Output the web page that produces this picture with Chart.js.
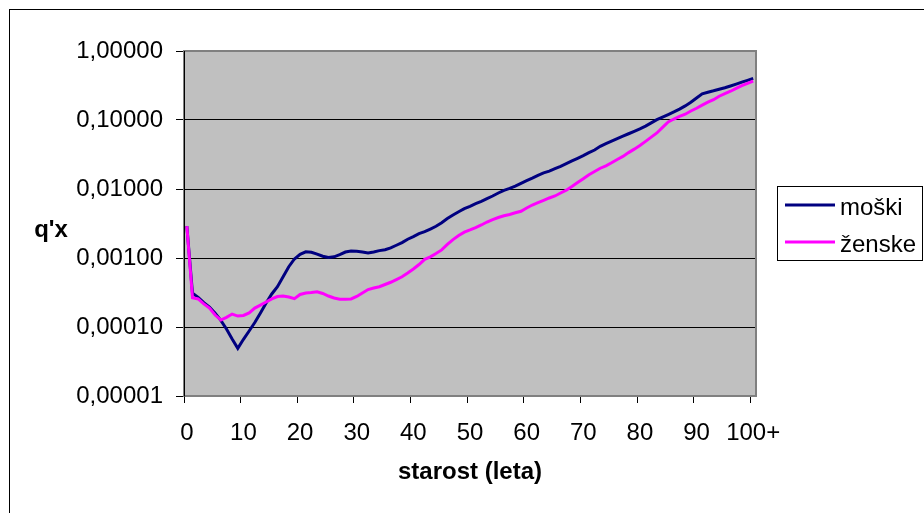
<!DOCTYPE html>
<html>
<head>
<meta charset="utf-8">
<script src="https://cdn.jsdelivr.net/npm/chart.js@4/dist/chart.umd.min.js"></script>
<style>
  html, body { margin: 0; padding: 0; background: #fff; }
  canvas { display: block; }
</style>
</head>
<body>
<canvas id="chart" width="924" height="513"></canvas>
<script>
// Age groups: single years 0..99 and the open group 100+
const ages = Array.from({ length: 100 }, (_, i) => String(i)).concat(['100+']);

// Decade ticks of the logarithmic q'x axis
const yTickValues = [0.00001, 0.0001, 0.001, 0.01, 0.1, 1];

// q'x for men (moški), by age
const moski = [
  0.0029, 0.000308, 0.000269, 0.000225, 0.000195, 0.000158, 0.000125, 0.0000935, 0.0000670, 0.0000491,
  0.0000663, 0.0000875, 0.000116, 0.000160, 0.000223, 0.000301, 0.000384, 0.000536, 0.000748, 0.000968,
  0.00113, 0.00123, 0.00121, 0.00114, 0.00106, 0.00102, 0.00104, 0.00112, 0.00122, 0.00126,
  0.00125, 0.00122, 0.00118, 0.00122, 0.00128, 0.00132, 0.00140, 0.00153, 0.00167, 0.00187,
  0.00204, 0.00225, 0.00241, 0.00263, 0.00288, 0.00325, 0.00373, 0.00420, 0.00469, 0.00519,
  0.00561, 0.00612, 0.00662, 0.00724, 0.00792, 0.00875, 0.00957, 0.0102, 0.0110, 0.0121,
  0.0132, 0.0144, 0.0158, 0.0171, 0.0182, 0.0197, 0.0213, 0.0233, 0.0255, 0.0278,
  0.0304, 0.0336, 0.0367, 0.0415, 0.0454, 0.0494, 0.0538, 0.0583, 0.0632, 0.0686,
  0.0743, 0.0815, 0.0908, 0.101, 0.110, 0.120, 0.131, 0.144, 0.160, 0.181,
  0.208, 0.240, 0.253, 0.265, 0.279, 0.293, 0.311, 0.331, 0.353, 0.376,
  0.402
];

// q'x for women (ženske), by age
const zenske = [
  0.0029, 0.000266, 0.000255, 0.000216, 0.000188, 0.000149, 0.000126, 0.000138, 0.000154, 0.000144,
  0.000147, 0.000160, 0.000188, 0.000208, 0.000230, 0.000255, 0.000276, 0.000281, 0.000272, 0.000257,
  0.000296, 0.000311, 0.000316, 0.000324, 0.000306, 0.000281, 0.000263, 0.000253, 0.000252, 0.000255,
  0.000277, 0.000311, 0.000349, 0.000367, 0.000383, 0.000413, 0.000445, 0.000487, 0.000534, 0.000606,
  0.000693, 0.000805, 0.000957, 0.00104, 0.00116, 0.00131, 0.00157, 0.00185, 0.00212, 0.00237,
  0.00255, 0.00276, 0.00301, 0.00332, 0.00361, 0.00386, 0.00409, 0.00427, 0.00452, 0.00476,
  0.00530, 0.00586, 0.00633, 0.00684, 0.00741, 0.00792, 0.00875, 0.00961, 0.01086, 0.0124,
  0.0141, 0.0161, 0.0179, 0.0200, 0.0217, 0.0240, 0.0268, 0.0297, 0.0337, 0.0378,
  0.0428, 0.0490, 0.0564, 0.0649, 0.0782, 0.0936, 0.1033, 0.1127, 0.1214, 0.135,
  0.148, 0.164, 0.181, 0.197, 0.221, 0.241, 0.261, 0.287, 0.314, 0.340,
  0.367
];

const FONT = "'Liberation Sans', Arial, sans-serif";

// Grey plot area, plot frame, outer frame, vertical axis caption and legend box
const decorations = {
  id: 'decorations',
  beforeDraw(chart) {
    const { ctx, chartArea: a } = chart;
    ctx.save();
    ctx.fillStyle = '#ffffff';
    ctx.fillRect(0, 0, chart.width, chart.height);
    ctx.fillStyle = '#C0C0C0';
    ctx.fillRect(a.left, a.top, a.right - a.left, a.bottom - a.top);
    ctx.restore();
  },
  beforeDatasetsDraw(chart) {
    const { ctx, chartArea: a } = chart;
    ctx.save();
    ctx.strokeStyle = '#808080';
    ctx.lineWidth = 2;
    ctx.strokeRect(a.left, a.top, a.right - a.left, a.bottom - a.top);
    ctx.strokeStyle = '#000000';
    ctx.lineWidth = 1;
    ctx.beginPath();
    ctx.moveTo(a.left + 0.5, a.top);
    ctx.lineTo(a.left + 0.5, a.bottom + 0.5);
    ctx.stroke();
    ctx.restore();
  },
  afterDraw(chart) {
    const { ctx } = chart;
    ctx.save();
    // outer chart frame
    ctx.strokeStyle = '#000';
    ctx.lineWidth = 1;
    ctx.strokeRect(9.5, 9.5, 1000, 1000);

    // vertical axis caption
    ctx.fillStyle = '#000';
    ctx.font = 'bold 24px ' + FONT;
    ctx.textAlign = 'center';
    ctx.textBaseline = 'alphabetic';
    ctx.fillText("q'x", 51, 237);

    // legend
    ctx.fillStyle = '#fff';
    ctx.fillRect(777.5, 186.5, 145, 74);
    ctx.strokeStyle = '#000';
    ctx.lineWidth = 1;
    ctx.strokeRect(777.5, 186.5, 145, 74);
    const rows = [205, 242];
    ctx.font = '24px ' + FONT;
    ctx.textAlign = 'left';
    chart.data.datasets.forEach((ds, i) => {
      const y = rows[i];
      ctx.strokeStyle = ds.borderColor;
      ctx.lineWidth = 3;
      ctx.beginPath();
      ctx.moveTo(785, y);
      ctx.lineTo(835, y);
      ctx.stroke();
      ctx.fillStyle = '#000';
      ctx.fillText(ds.label, 840, y + 9.5);
    });
    ctx.restore();
  }
};

new Chart(document.getElementById('chart'), {
  type: 'line',
  data: {
    labels: ages,
    datasets: [
      {
        label: 'moški',
        data: moski,
        borderColor: '#000080',
        backgroundColor: '#000080',
        borderWidth: 3,
        pointRadius: 0,
        tension: 0,
        fill: false,
        order: 2
      },
      {
        label: 'ženske',
        data: zenske,
        borderColor: '#FF00FF',
        backgroundColor: '#FF00FF',
        borderWidth: 3,
        pointRadius: 0,
        tension: 0,
        fill: false,
        order: 1
      }
    ]
  },
  options: {
    responsive: false,
    devicePixelRatio: 1,
    animation: false,
    events: [],
    layout: { padding: { left: 0, top: 51, right: 168, bottom: 0 } },
    plugins: {
      legend: { display: false },
      tooltip: { enabled: false }
    },
    scales: {
      x: {
        type: 'category',
        offset: true,
        afterFit(scale) { scale.height = 117; },
        border: { display: false },
        grid: {
          offset: true,
          drawOnChartArea: false,
          drawTicks: true,
          tickLength: 7,
          lineWidth: 1,
          color: (ctx) => (ctx.index % 10 === 0 && ctx.index <= 100) ? '#000' : 'rgba(0,0,0,0)'
        },
        ticks: {
          autoSkip: false,
          maxRotation: 0,
          minRotation: 0,
          padding: 16,
          color: '#000',
          font: { family: FONT, size: 24 },
          callback: (value, index) => (index % 10 === 0 ? ages[index] : '')
        },
        title: {
          display: true,
          text: 'starost (leta)',
          color: '#000',
          font: { family: FONT, size: 24, weight: 'bold' },
          padding: { top: 0, bottom: 26 }
        }
      },
      y: {
        type: 'logarithmic',
        min: 0.00001,
        max: 1,
        afterFit(scale) { scale.width = 184; },
        afterBuildTicks(scale) {
          scale.ticks = yTickValues.map(v => ({ value: v }));
        },
        border: { display: false },
        grid: {
          color: '#000',
          lineWidth: 1,
          tickLength: 8,
          tickColor: '#000'
        },
        ticks: {
          padding: 13,
          color: '#000',
          font: { family: FONT, size: 24 },
          callback: (value) => Number(value).toFixed(5).replace('.', ',')
        }
      }
    }
  },
  plugins: [decorations]
});
</script>
</body>
</html>
